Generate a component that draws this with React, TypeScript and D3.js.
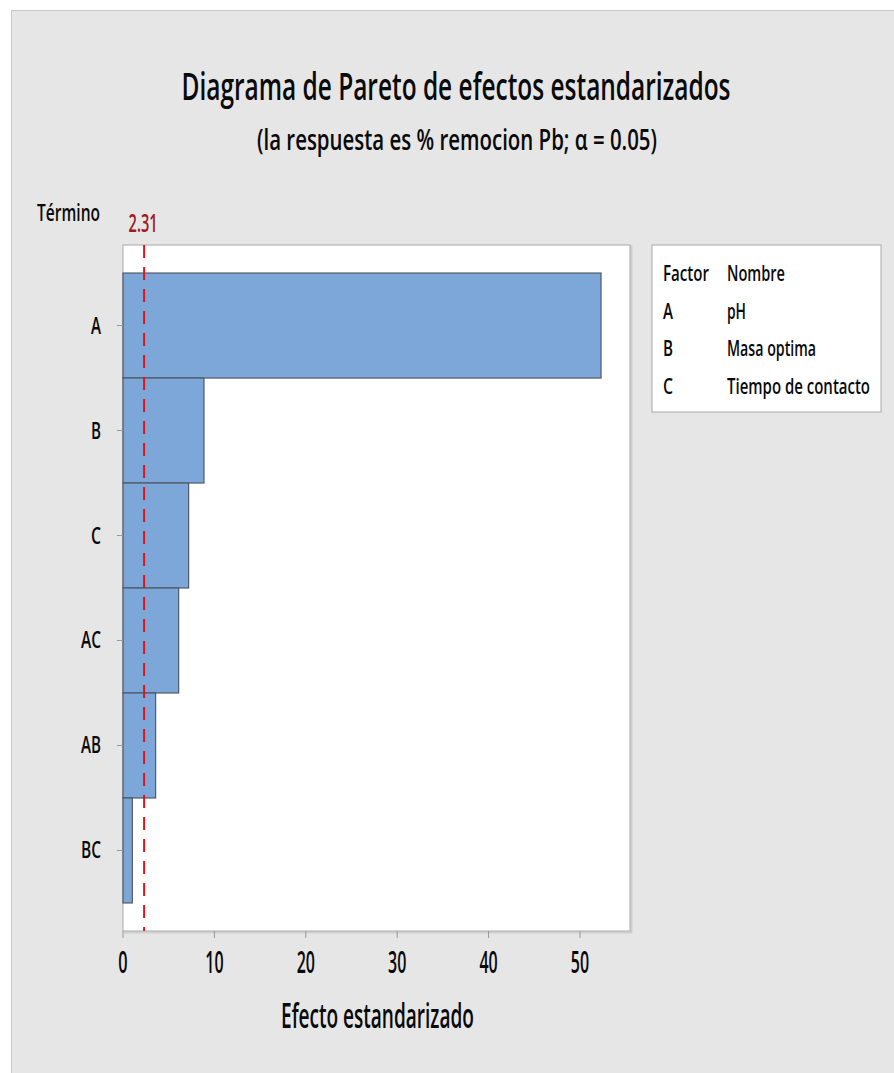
import React from "react";
import * as d3 from "d3";

// Pareto chart of standardized effects (response: % remocion Pb, alpha = 0.05)
const terms = ["A", "B", "C", "AC", "AB", "BC"];
const effects = [52.3, 8.86, 7.18, 6.09, 3.57, 1.02];
const xTicks = [0, 10, 20, 30, 40, 50];
const criticalValue = 2.31;
const legendFactors = ["A", "B", "C"];
const legendNames = ["pH", "Masa optima", "Tiempo de contacto"];

const W = 894;
const H = 1073;
const FONT = "'Open Sans', 'Noto Sans', sans-serif";

type TxtProps = {
  x: number;
  y: number;
  size: number;
  width: number;
  anchor?: "start" | "middle" | "end";
  fill?: string;
  children: React.ReactNode;
};

// Narrow text set to a fixed rendered width
function Txt({ x, y, size, width, anchor = "start", fill = "#111", children }: TxtProps) {
  return (
    <text
      x={x}
      y={y}
      fontSize={size}
      fontFamily={FONT}
      fontWeight={600}
      textAnchor={anchor}
      textLength={width}
      lengthAdjust="spacingAndGlyphs"
      fill={fill}
    >
      {children}
    </text>
  );
}

export default function App() {
  const plot = { left: 123, top: 245, right: 630, bottom: 931 };

  const x = d3.scaleLinear().domain([0, 55.47]).range([plot.left, plot.right]);
  const y = d3
    .scaleBand<string>()
    .domain(terms)
    .range([plot.top, plot.bottom])
    .paddingInner(0)
    .paddingOuter(0.267);

  const tickWidth = (t: number) => (String(t).length === 1 ? 9.3 : 18.3);
  const termWidth = (t: string) => (t.length === 1 ? 10 : 20);

  const legend = { left: 652, top: 245, right: 881, bottom: 412 };
  const rowY = [319, 356, 394];

  return (
    <svg
      width={W}
      height={H}
      style={{ position: "absolute", left: 0, top: 0, display: "block" }}
    >
      <rect x={0} y={0} width={W} height={H} fill="#ffffff" />
      <rect x={11.5} y={10.5} width={W + 10} height={H + 10} fill="#e6e6e6" stroke="#c8c8c8" strokeWidth={1} />

      {/* Titles */}
      <Txt x={456} y={100} size={38} width={549} anchor="middle" fill="#0a0a0a">
        Diagrama de Pareto de efectos estandarizados
      </Txt>
      <Txt x={457} y={150} size={28} width={400} anchor="middle" fill="#0a0a0a">
        (la respuesta es % remocion Pb; α = 0.05)
      </Txt>

      {/* Plot area */}
      <rect
        x={plot.left + 1.5}
        y={plot.top + 1.5}
        width={plot.right - plot.left}
        height={plot.bottom - plot.top}
        fill="none"
        stroke="#d0d0d0"
        strokeWidth={2}
      />
      <rect
        x={plot.left}
        y={plot.top}
        width={plot.right - plot.left}
        height={plot.bottom - plot.top}
        fill="#ffffff"
        stroke="#a8a8a8"
        strokeWidth={1}
      />

      {/* Bars */}
      {terms.map((t, i) => (
        <rect
          key={t}
          x={x(0)}
          y={y(t)!}
          width={x(effects[i]) - x(0)}
          height={y.bandwidth()}
          fill="#7da7d9"
          stroke="#4f5965"
          strokeWidth={1.2}
        />
      ))}

      {/* Critical value reference line */}
      <line
        x1={x(criticalValue)}
        x2={x(criticalValue)}
        y1={plot.top}
        y2={plot.bottom}
        stroke="#e0131b"
        strokeWidth={2}
        strokeDasharray="13,9"
      />
      <Txt x={x(criticalValue) - 1} y={232} size={26} width={29} anchor="middle" fill="#9e1b1f">
        2.31
      </Txt>

      {/* Y axis */}
      <Txt x={37} y={221} size={24} width={63} fill="#0a0a0a">
        Término
      </Txt>
      {terms.map((t) => {
        const cy = y(t)! + y.bandwidth() / 2;
        return (
          <g key={t}>
            <line x1={117} x2={plot.left} y1={cy} y2={cy} stroke="#999" strokeWidth={1} />
            <Txt x={101} y={cy + 8} size={24} width={termWidth(t)} anchor="end" fill="#0a0a0a">
              {t}
            </Txt>
          </g>
        );
      })}

      {/* X axis */}
      {xTicks.map((t) => (
        <g key={t}>
          <line x1={x(t)} x2={x(t)} y1={plot.bottom} y2={plot.bottom + 7} stroke="#999" strokeWidth={1} />
          <Txt x={x(t)} y={973} size={30} width={tickWidth(t)} anchor="middle" fill="#0a0a0a">
            {t}
          </Txt>
        </g>
      ))}
      <Txt x={377.5} y={1028} size={35} width={193} anchor="middle" fill="#0a0a0a">
        Efecto estandarizado
      </Txt>

      {/* Legend */}
      <rect
        x={legend.left}
        y={legend.top}
        width={legend.right - legend.left}
        height={legend.bottom - legend.top}
        fill="#ffffff"
        stroke="#a8a8a8"
        strokeWidth={1}
      />
      <Txt x={663} y={281} size={22} width={46} fill="#0a0a0a">
        Factor
      </Txt>
      <Txt x={727} y={281} size={22} width={58} fill="#0a0a0a">
        Nombre
      </Txt>
      {legendFactors.map((f, i) => (
        <g key={f}>
          <Txt x={663} y={rowY[i]} size={22} width={10} fill="#0a0a0a">
            {f}
          </Txt>
          <Txt
            x={727}
            y={rowY[i]}
            size={22}
            width={[19, 89, 143][i]}
            fill="#0a0a0a"
          >
            {legendNames[i]}
          </Txt>
        </g>
      ))}
    </svg>
  );
}
